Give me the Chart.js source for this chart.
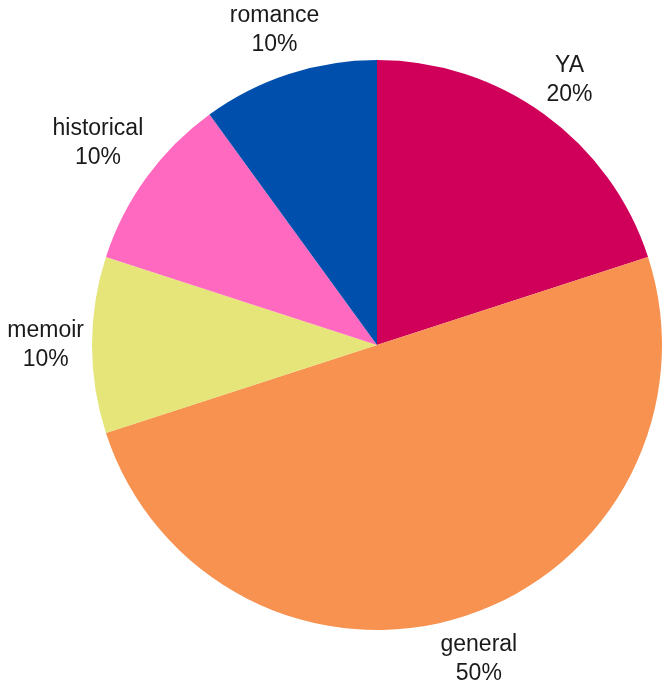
<!DOCTYPE html>
<html>
<head>
<meta charset="utf-8">
<script src="https://cdn.jsdelivr.net/npm/chart.js@4/dist/chart.umd.min.js"></script>
<style>
  html, body { margin: 0; padding: 0; background: #fff; }
  #wrap { width: 663px; height: 698px; }
</style>
</head>
<body>
<div id="wrap"><canvas id="pie"></canvas></div>
<script>
let genres = ['YA', 'general', 'memoir', 'historical', 'romance']
let shares = [20, 50, 10, 10, 10]
let colors = ['#d0005a', '#f79250', '#e5e57a', '#ff69c0', '#004fac']

// draws "name / NN%" outside each slice, pushed out by the size of the text box
let outsideLabels = {
    id: 'outsideLabels',
    afterDatasetsDraw(chart) {
        let ctx = chart.ctx
        let meta = chart.getDatasetMeta(0)
        let total = shares.reduce((a, b) => a + b, 0)
        ctx.save()
        ctx.font = '23px "Liberation Sans", Arial, sans-serif'
        ctx.fillStyle = '#1a1a1a'
        ctx.textAlign = 'center'
        ctx.textBaseline = 'middle'
        meta.data.forEach(function(arc, idx) {
            let mid = (arc.startAngle + arc.endAngle) / 2
            let pct = Math.round(shares[idx] / total * 100) + '%'
            let w = Math.max(ctx.measureText(genres[idx]).width, ctx.measureText(pct).width)
            let h = 52
            let cx = Math.cos(mid), cy = Math.sin(mid)
            let extent = Math.abs(cx) * w / 2 + Math.abs(cy) * h / 2
            let dist = arc.outerRadius + 8 + extent
            let x = arc.x + cx * dist
            let y = arc.y + cy * dist
            ctx.fillText(genres[idx], x, y - 14)
            ctx.fillText(pct, x, y + 15)
        })
        ctx.restore()
    }
}

new Chart(document.getElementById('pie'), {
    type: 'pie',
    data: {
        labels: genres,
        datasets: [{
            data: shares,
            backgroundColor: colors,
            borderWidth: 0
        }]
    },
    options: {
        responsive: true,
        maintainAspectRatio: false,
        animation: false,
        layout: { padding: { left: 92, right: 1, top: 60, bottom: 68 } },
        plugins: {
            legend: { display: false },
            tooltip: { enabled: false }
        }
    },
    plugins: [outsideLabels]
})
</script>
</body>
</html>
